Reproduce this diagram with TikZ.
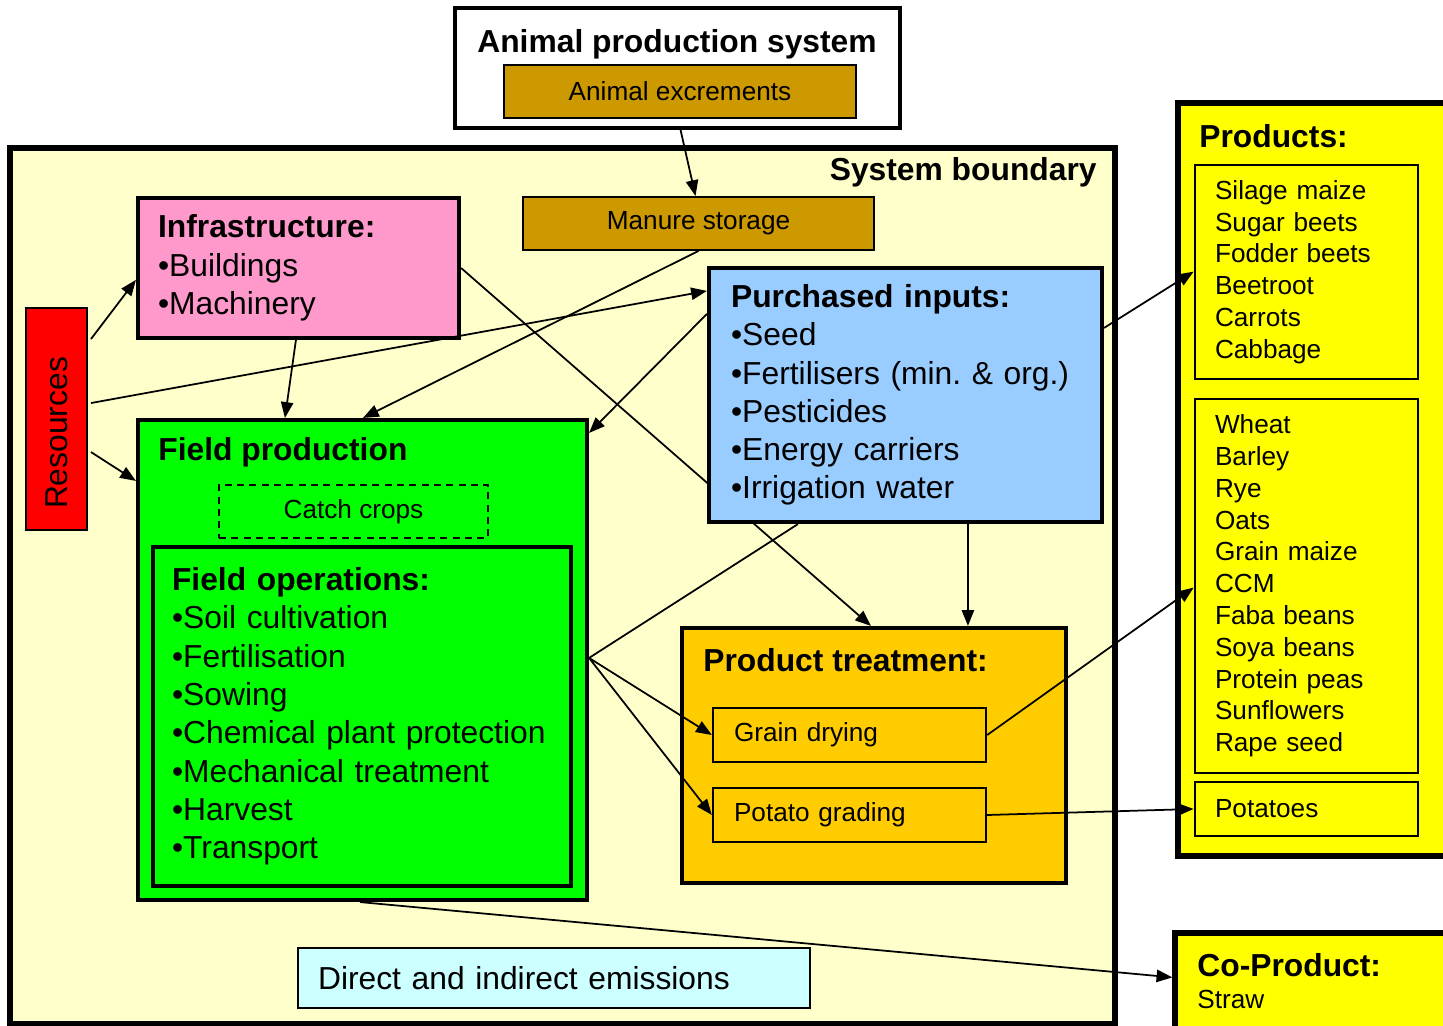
\documentclass[tikz,border=0pt]{standalone}
\usepackage{fontspec}
\setmainfont{Liberation Sans}
\usetikzlibrary{arrows.meta}
\frenchspacing

\definecolor{excbrown}{HTML}{CC9900}
\definecolor{infrapink}{HTML}{FF99CC}
\definecolor{inputblue}{HTML}{99CCFF}
\definecolor{fieldgreen}{HTML}{00FF00}
\definecolor{treatorange}{HTML}{FFCC00}
\definecolor{prodyellow}{HTML}{FFFF00}
\definecolor{sysbg}{HTML}{FFFFCC}
\definecolor{emisscyan}{HTML}{CCFFFF}

\newcommand\bigtxt{\fontsize{18.1}{21.8}\selectfont}
\newcommand\smalltxt{\fontsize{14.9}{18.1}\selectfont}

\pgfdeclarelayer{back}
\pgfdeclarelayer{mid}
\pgfsetlayers{back,mid,main}

\tikzset{
  dims/.style 2 args={minimum width=#1, minimum height=#2},
  box/.style={draw, line width=2.4pt, inner sep=0pt},
  thinbox/.style={draw, line width=1.1pt, inner sep=0pt},
  listbox/.style={draw, line width=1.6pt, inner sep=0pt, fill=prodyellow,
    align=left, text width=3.66cm, font=\smalltxt},
  bigitems/.style={align=left, font=\bigtxt},
  title/.style={font=\bigtxt\bfseries, inner sep=0pt},
  flow/.style={line width=1pt, -{Triangle[length=9pt,width=7pt]}},
  link/.style={line width=1pt},
}

\begin{document}
\begin{tikzpicture}[x=0.02cm, y=-0.02cm]
  \useasboundingbox (0,0) rectangle (1443,1026);

  % System boundary
  \begin{pgfonlayer}{back}
    \node[draw, line width=3.4pt, fill=sysbg, dims={22.1cm}{17.52cm}] (sys) at (562.5,586) {};
  \end{pgfonlayer}
  \node[title, anchor=east] (sysT) at (1097,172) {System boundary};

  % Animal production system
  \node[box, line width=2pt, fill=white, dims={8.9cm}{2.4cm}] (aps) at (677.5,68) {};
  \node[title] (apsT) at (677,44) {Animal production system};
  \node[thinbox, fill=excbrown, font=\smalltxt, dims={7.04cm}{1.06cm}] (exc) at (680,91.5) {Animal excrements};
  \node[thinbox, fill=excbrown, font=\smalltxt, dims={7.02cm}{1.06cm}] (manure) at (698.5,223.5) {Manure storage};

  % Resources and infrastructure
  \node[thinbox, fill=red, dims={1.22cm}{4.44cm}] (res) at (56.5,419) {};
  \node[rotate=90, font=\bigtxt, inner sep=0pt] (resT) at (57,433) {Resources};
  \node[box, fill=infrapink, bigitems, text width=5.62cm, dims={6.42cm}{2.8cm}] (infra) at (298.5,268)
    {\textbf{Infrastructure:}\\ •Buildings\\ •Machinery};

  % Purchased inputs
  \node[box, fill=inputblue, bigitems, text width=6.98cm, dims={7.86cm}{5.08cm}] (purch) at (905.5,395)
    {\textbf{Purchased inputs:}\\ •Seed\\ •Fertilisers (min. \& org.)\\ •Pesticides\\ •Energy carriers\\ •Irrigation water};

  % Field production
  \node[box, fill=fieldgreen, dims={8.98cm}{9.6cm}] (field) at (362.5,660) {};
  \node[title, anchor=west] (fieldT) at (158,452) {Field production};
  \node[thinbox, dash pattern=on 4pt off 3pt, font=\smalltxt, dims={5.38cm}{1.06cm}] (catch) at (353.5,511.5) {Catch crops};
  \node[box, bigitems, text width=7.6cm, dims={8.36cm}{6.78cm}] (ops) at (362,716.5)
    {\textbf{Field operations:}\\ •Soil cultivation\\ •Fertilisation\\ •Sowing\\ •Chemical plant protection\\ •Mechanical treatment\\ •Harvest\\ •Transport};

  % Product treatment
  \node[box, fill=treatorange, dims={7.68cm}{5.1cm}] (treat) at (874,755.5) {};
  \node[title, anchor=west] (treatT) at (703,660) {Product treatment:};
  \node[thinbox, line width=1.4pt, fill=treatorange, font=\smalltxt, align=left, text width=4.62cm,
    dims={5.46cm}{1.08cm}] (grain) at (849.5,735) {Grain drying};
  \node[thinbox, line width=1.4pt, fill=treatorange, font=\smalltxt, align=left, text width=4.62cm,
    dims={5.46cm}{1.08cm}] (potato) at (849.5,815) {Potato grading};

  \node[thinbox, line width=0.8pt, fill=emisscyan, font=\bigtxt, align=left, text width=9.44cm,
    dims={10.24cm}{1.2cm}] (emis) at (554,978) {Direct and indirect emissions};

  % Products and co-product
  \node[box, line width=3pt, fill=prodyellow, dims={5.84cm}{15.06cm}] (prod) at (1324,479.5) {};
  \node[title, anchor=west] (prodT) at (1199,136) {Products:};
  \node[listbox, dims={4.46cm}{4.28cm}] (veg) at (1306.5,272)
    {Silage maize\\ Sugar beets\\ Fodder beets\\ Beetroot\\ Carrots\\ Cabbage};
  \node[listbox, dims={4.46cm}{7.48cm}] (cereal) at (1306.5,586)
    {Wheat\\ Barley\\ Rye\\ Oats\\ Grain maize\\ CCM\\ Faba beans\\ Soya beans\\ Protein peas\\ Sunflowers\\ Rape seed};
  \node[listbox, dims={4.46cm}{1.08cm}] (potatoes) at (1306.5,809) {Potatoes};

  \node[box, line width=3pt, fill=prodyellow, dims={5.9cm}{2.14cm}] (coprod) at (1322.5,986.5) {};
  \node[title, anchor=west] (coprodT) at (1197,965) {Co-Product:};
  \node[font=\smalltxt, anchor=west, inner sep=0pt] (straw) at (1197,999) {Straw};

  % Flows
  \begin{pgfonlayer}{mid}
    \draw[flow] (infra.east) -- ([shift={(191,0)}]treat.north west);
  \end{pgfonlayer}
  \draw[flow] ([shift={(3,0)}]aps.south) -- ([shift={(-3,0)}]manure.north);
  \draw[flow] ([shift={(3,32)}]res.north east) -- ([shift={(0,84)}]infra.north west);
  \draw[flow] ([shift={(3,96)}]res.north east) -- ([shift={(0,25)}]purch.north west);
  \draw[flow] ([shift={(3,145)}]res.north east) -- ([shift={(0,63)}]field.north west);
  \draw[flow] ([shift={(160,0)}]infra.south west) -- ([shift={(149,0)}]field.north west);
  \draw[flow] (manure.south) -- ([shift={(227,0)}]field.north west);
  \draw[flow] ([shift={(0,48)}]purch.north west) -- ([shift={(0,15)}]field.north east);
  \draw[link] ([shift={(0,240)}]field.north east) -- ([shift={(91,0)}]purch.south west);
  \draw[flow] ([shift={(261,0)}]purch.south west) -- ([shift={(288,0)}]treat.north west);
  \draw[flow] ([shift={(0,240)}]field.north east) -- (grain.west);
  \draw[flow] ([shift={(0,240)}]field.north east) -- (potato.west);
  \draw[flow] ([shift={(0,62)}]purch.north east) -- ([shift={(0,108)}]veg.north west);
  \draw[flow] (grain.east) -- ([shift={(0,190)}]cereal.north west);
  \draw[flow] (potato.east) -- (potatoes.west);
  \draw[flow] ([shift={(224,0)}]field.south west) -- ([shift={(0,47)}]coprod.north west);
\end{tikzpicture}
\end{document}
